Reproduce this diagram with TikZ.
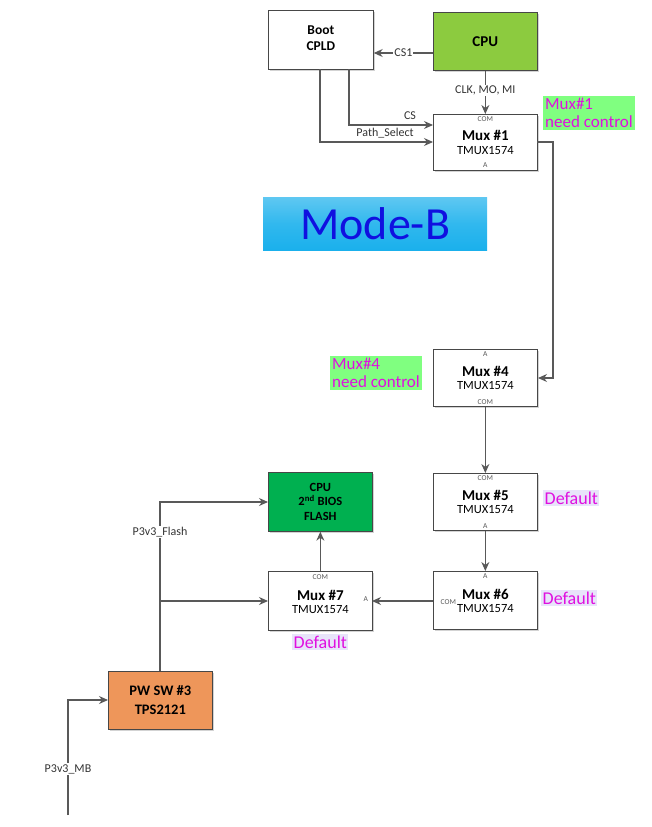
\documentclass[tikz,border=0pt]{standalone}
\usepackage{fontspec}
\setmainfont{Carlito}
\usetikzlibrary{arrows.meta,shadows}
\definecolor{lineg}{HTML}{595959}
\definecolor{cpugreen}{HTML}{8CCB3F}
\definecolor{biosgreen}{HTML}{00B050}
\definecolor{pworange}{HTML}{EE965A}
\definecolor{notegreen}{HTML}{80FF80}
\definecolor{notemag}{HTML}{E010E0}
\definecolor{deflav}{HTML}{E8E4FA}
\definecolor{modeblue}{HTML}{1AB0EC}
\definecolor{modetext}{HTML}{1010E0}
\tikzset{
  blk/.style={draw=lineg!80!black, line width=0.7pt, fill=white, minimum width=104pt, minimum height=57pt, inner sep=0pt, anchor=north west, align=center, drop shadow={shadow xshift=1.5pt, shadow yshift=-1.5pt, opacity=0.35}},
  wire/.style={draw=lineg, line width=1.1pt},
  arr/.style={wire, -{Stealth[length=9pt,width=8pt]}},
  pin/.style={font=\fontsize{7.5}{8}\selectfont, text=lineg},
  lbl/.style={font=\fontsize{12}{13}\selectfont, text=black!80, inner sep=1pt},
  note/.style={fill=notegreen, text=notemag, font=\fontsize{17}{18}\selectfont, align=left, inner sep=2pt, anchor=north west},
  defl/.style={fill=deflav, text=notemag, font=\fontsize{18}{19}\selectfont, inner sep=1.5pt, anchor=north west},
  mx/.style={font=\bfseries\fontsize{15}{16}\selectfont},
  tm/.style={font=\fontsize{12.5}{13}\selectfont}
}
\begin{document}
\begin{tikzpicture}[x=1pt,y=-1pt]
\useasboundingbox (0,0) rectangle (651,827);
% boxes
\node[blk, minimum width=105pt, minimum height=59pt] (boot) at (268,10) {};
\node[font=\bfseries\fontsize{13.5}{16}\selectfont, align=center] (boott) at ([yshift=2]boot.center) {Boot\\CPLD};
\node[blk, fill=cpugreen, minimum width=104pt, minimum height=58pt] (cpu) at (433,12) {};
\node[font=\bfseries\fontsize{15}{16}\selectfont] (cput) at (cpu.center) {CPU};
\node[blk, minimum height=56pt] (m1) at (433,114) {};
\node[mx] (m1t) at ([yshift=7]m1.center) {Mux \#1};
\node[tm] (m1s) at ([yshift=-8]m1.center) {TMUX1574};
\node[pin] (m1c) at ([yshift=-5]m1.north) {COM};
\node[pin] (m1a) at ([yshift=6]m1.south) {A};
% Mode-B
\node[anchor=north west, minimum width=224pt, minimum height=53pt, inner sep=0pt, top color=modeblue!70!white, bottom color=modeblue, middle color=modeblue!90!white, text=modetext, font=\fontsize{46}{50}\selectfont] (mode) at (263,197) {Mode-B};
% Mux4
\node[blk] (m4) at (433,349) {};
\node[mx] (m4t) at ([yshift=6]m4.center) {Mux \#4};
\node[tm] (m4s) at ([yshift=-8]m4.center) {TMUX1574};
\node[pin] (m4a) at ([yshift=-5]m4.north) {A};
\node[pin] (m4c) at ([yshift=5]m4.south) {COM};
% Mux5
\node[blk] (m5) at (433,473) {};
\node[mx] (m5t) at ([yshift=6]m5.center) {Mux \#5};
\node[tm] (m5s) at ([yshift=-8]m5.center) {TMUX1574};
\node[pin] (m5c) at ([yshift=-5]m5.north) {COM};
\node[pin] (m5a) at ([yshift=5]m5.south) {A};
% Mux6
\node[blk, minimum height=58pt] (m6) at (433,571) {};
\node[mx] (m6t) at ([yshift=6]m6.center) {Mux \#6};
\node[tm] (m6s) at ([yshift=-8]m6.center) {TMUX1574};
\node[pin] (m6a) at ([yshift=-5]m6.north) {A};
\node[pin] (m6c) at ([xshift=-37,yshift=-2]m6.center) {COM};
% Mux7
\node[blk, minimum height=59pt] (m7) at (268,571) {};
\node[mx] (m7t) at ([yshift=5]m7.center) {Mux \#7};
\node[tm] (m7s) at ([yshift=-9]m7.center) {TMUX1574};
\node[pin] (m7c) at ([yshift=-6]m7.north) {COM};
\node[pin] (m7a) at ([xshift=-7,yshift=2]m7.east) {A};
% BIOS
\node[blk, fill=biosgreen, minimum height=59pt] (bios) at (268,472) {};
\node[font=\bfseries\fontsize{12.5}{14.5}\selectfont, align=center] (biost) at (bios.center) {CPU\\2\textsuperscript{nd} BIOS\\FLASH};
% PW SW
\node[blk, fill=pworange, minimum height=58pt] (pw) at (108,671) {};
\node[font=\bfseries\fontsize{14.5}{19}\selectfont, align=center] (pwt) at (pw.center) {PW SW \#3\\TPS2121};
% notes
\node[note] (n1) at (543,96) {Mux\#1\\need control};
\node[note] (n4) at (330,356) {Mux\#4\\need control};
\node[defl] (d5) at (543,490) {Default};
\node[defl] (d6) at (541,590) {Default};
\node[defl] (d7) at (292,634) {Default};
% coordinates
\coordinate (b1) at (349,69);
\coordinate (b2) at (320,69);
\coordinate (m1cs) at (433,125);
\coordinate (m1ps) at (433,142);
\coordinate (m1r) at (537,142);
\coordinate (m4r) at (538,378);
\coordinate (m7l) at (268,601);
\coordinate (m7r) at (372,601);
\coordinate (m6l) at (433,601);
\coordinate (bl) at (268,502);
\coordinate (pt) at (160,671);
\coordinate (pl) at (108,700);
\coordinate (mbstart) at (68,815);
% connectors
\draw[arr] (cpu.west|-0,53) -- node[lbl, fill=white] (cs1) {CS1} (boot.east|-0,53);
\draw[arr] (cpu.south) -- node[lbl, fill=white, pos=0.45] (clk) {CLK, MO, MI} (m1.north);
\draw[arr] (b1) |- (m1cs);
\node[lbl] (csl) at (410,116) {CS};
\draw[arr] (b2) |- (m1ps);
\node[lbl] (psl) at (385,133) {Path\_Select};
\draw[arr] (m1r) -| (553,260) |- (m4r);
\draw[arr] (m4.south) -- (m5.north);
\draw[arr] (m5.south) -- (m6.north);
\draw[arr] (m6l) -- (m7r);
\draw[arr] (m7.north) -- (bios.south);
\draw[arr] (pt) |- node[lbl, fill=white, pos=0.41] (flashl) {P3v3\_Flash} (bl);
\draw[arr] (160,601) -- (m7l);
\draw[arr] (mbstart) |- node[lbl, fill=white, pos=0.2] (mbl) {P3v3\_MB} (pl);
\end{tikzpicture}
\end{document}
